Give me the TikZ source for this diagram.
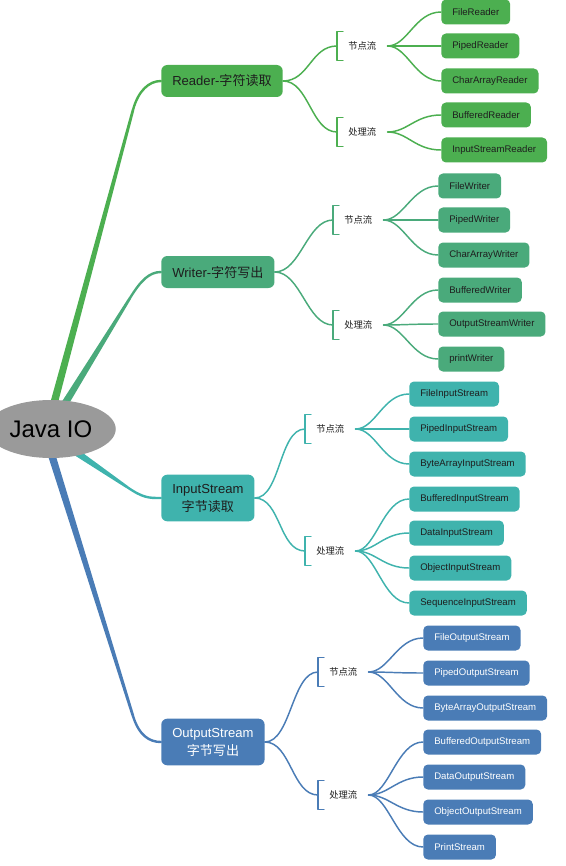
\documentclass[tikz,border=0pt]{standalone}
\usepackage{fontspec}
\setmainfont{Liberation Sans}
\newfontfamily\cjk{Noto Sans CJK SC}
\usetikzlibrary{calc,shapes.geometric}

\definecolor{rdgreen}{HTML}{4CAF50}
\definecolor{wrgreen}{HTML}{4AAA7B}
\definecolor{inteal}{HTML}{3FB3AD}
\definecolor{outblue}{HTML}{4A7CB6}
\definecolor{rootgray}{HTML}{9A9A9A}
\definecolor{ink}{HTML}{1E1E1E}

\begin{document}
\begin{tikzpicture}[x=0.75pt, y=-0.75pt, line cap=round, line join=round,
  mainbox/.style={rounded corners=4.5pt, anchor=west, align=center, text=ink, minimum height=24pt, inner xsep=8.25pt, font=\fontsize{9.8}{13.5}\selectfont},
  twoline/.style={minimum height=35pt},
  leaf/.style={rounded corners=3.5pt, anchor=west, text=ink, minimum height=18.75pt, inner xsep=8.25pt, inner ysep=0pt, font=\fontsize{7.2}{9}\selectfont},
  sub/.style={anchor=west, minimum height=21pt, inner xsep=8.25pt, inner ysep=0pt, text=ink, font=\cjk\fontsize{7}{9}\selectfont},
  link/.style={line width=1.1pt}]
  \useasboundingbox (0,0) rectangle (566,866);

  % main branches
  \node[mainbox, fill=rdgreen] (rd) at (161,81) {Reader-{\cjk 字符读取}};
  \node[mainbox, fill=wrgreen] (wr) at (161,272) {Writer-{\cjk 字符写出}};
  \node[mainbox, twoline, fill=inteal] (in) at (161,498) {InputStream\\{\cjk 字节读取}};
  \node[mainbox, twoline, fill=outblue, text=white] (out) at (161,742) {OutputStream\\{\cjk 字节写出}};

  \coordinate (sRd) at (50,418);  \coordinate (bRd) at (133,110);
  \coordinate (sWr) at (56,418);  \coordinate (bWr) at (130,298);
  \coordinate (sIn) at (64,444);  \coordinate (bIn) at (127,487);
  \coordinate (sOut) at (47,440); \coordinate (bOut) at (133,716);
  \foreach \s/\b/\n/\c in {sRd/bRd/rd/rdgreen, sWr/bWr/wr/wrgreen, sIn/bIn/in/inteal, sOut/bOut/out/outblue}{
    \fill[\c] ($(\s)!2.9pt!90:(\b)$) -- ($(\b)!1pt!-90:(\s)$) -- ($(\b)!1pt!90:(\s)$) -- ($(\s)!2.9pt!-90:(\b)$) -- cycle;
    \draw[\c, line width=1.8pt] (\b) .. controls ($(\b)!-15pt!(\s)$) and ($(\n.west)+(-12,0)$) .. (\n.west);
  }

  \node[ellipse, fill=rootgray, minimum width=84pt, minimum height=43.5pt, font=\fontsize{18}{20}\selectfont] (root) at (51,429) {Java IO};

  % sub labels
  \node[sub] (rN) at (337,46) {节点流};
  \node[sub] (rP) at (337,132) {处理流};
  \node[sub] (wN) at (333,220) {节点流};
  \node[sub] (wP) at (333,325) {处理流};
  \node[sub] (iN) at (305,429) {节点流};
  \node[sub] (iP) at (305,551) {处理流};
  \node[sub] (oN) at (318,672) {节点流};
  \node[sub] (oP) at (318,795) {处理流};

  % leaves
  \node[leaf, fill=rdgreen] (r1) at (441,12) {FileReader};
  \node[leaf, fill=rdgreen] (r2) at (441,46) {PipedReader};
  \node[leaf, fill=rdgreen] (r3) at (441,81) {CharArrayReader};
  \node[leaf, fill=rdgreen] (r4) at (441,115) {BufferedReader};
  \node[leaf, fill=rdgreen] (r5) at (441,150) {InputStreamReader};

  \node[leaf, fill=wrgreen] (w1) at (438,186) {FileWriter};
  \node[leaf, fill=wrgreen] (w2) at (438,220) {PipedWriter};
  \node[leaf, fill=wrgreen] (w3) at (438,255) {CharArrayWriter};
  \node[leaf, fill=wrgreen] (w4) at (438,290) {BufferedWriter};
  \node[leaf, fill=wrgreen] (w5) at (438,324) {OutputStreamWriter};
  \node[leaf, fill=wrgreen] (w6) at (438,359) {printWriter};

  \node[leaf, fill=inteal] (i1) at (409,394) {FileInputStream};
  \node[leaf, fill=inteal] (i2) at (409,429) {PipedInputStream};
  \node[leaf, fill=inteal] (i3) at (409,464) {ByteArrayInputStream};
  \node[leaf, fill=inteal] (i4) at (409,499) {BufferedInputStream};
  \node[leaf, fill=inteal] (i5) at (409,533) {DataInputStream};
  \node[leaf, fill=inteal] (i6) at (409,568) {ObjectInputStream};
  \node[leaf, fill=inteal] (i7) at (409,603) {SequenceInputStream};

  \node[leaf, fill=outblue, text=white] (o1) at (423,638) {FileOutputStream};
  \node[leaf, fill=outblue, text=white] (o2) at (423,673) {PipedOutputStream};
  \node[leaf, fill=outblue, text=white] (o3) at (423,708) {ByteArrayOutputStream};
  \node[leaf, fill=outblue, text=white] (o4) at (423,742) {BufferedOutputStream};
  \node[leaf, fill=outblue, text=white] (o5) at (423,777) {DataOutputStream};
  \node[leaf, fill=outblue, text=white] (o6) at (423,812) {ObjectOutputStream};
  \node[leaf, fill=outblue, text=white] (o7) at (423,847) {PrintStream};

  % brackets and links
  \foreach \m/\s/\c in {rd/rN/rdgreen, rd/rP/rdgreen, wr/wN/wrgreen, wr/wP/wrgreen, in/iN/inteal, in/iP/inteal, out/oN/outblue, out/oP/outblue}{
    \draw[link, \c] (\m.east) .. controls +(26,0) and +(-26,0) .. (\s.west);
    \draw[link, \c] ($(\s.north west)+(6,0)$) -- (\s.north west) -- (\s.south west) -- ++(6,0);
  }
  \foreach \s/\l/\c in {rN/r1/rdgreen, rN/r2/rdgreen, rN/r3/rdgreen, rP/r4/rdgreen, rP/r5/rdgreen,
      wN/w1/wrgreen, wN/w2/wrgreen, wN/w3/wrgreen, wP/w4/wrgreen, wP/w5/wrgreen, wP/w6/wrgreen,
      iN/i1/inteal, iN/i2/inteal, iN/i3/inteal, iP/i4/inteal, iP/i5/inteal, iP/i6/inteal, iP/i7/inteal,
      oN/o1/outblue, oN/o2/outblue, oN/o3/outblue, oP/o4/outblue, oP/o5/outblue, oP/o6/outblue, oP/o7/outblue}
    \draw[link, \c] (\s.east) .. controls +(20,0) and +(-26,0) .. (\l.west);
\end{tikzpicture}
\end{document}
